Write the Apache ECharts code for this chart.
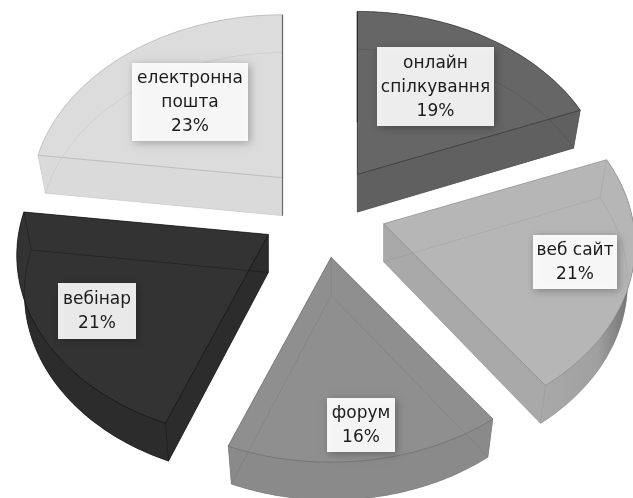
<!DOCTYPE html>
<html><head><meta charset="utf-8">
<style>html,body{margin:0;padding:0;background:#fff}#c{width:633px;height:498px;filter:blur(.55px)}</style>
<script src="https://cdn.jsdelivr.net/npm/echarts@6/dist/echarts.min.js"></script>
</head><body><div id="c"></div>
<script>
const categories = ['онлайн\nспілкування', 'веб сайт', 'форум', 'вебінар', 'електронна\nпошта'];
const shares = [19, 21, 16, 21, 23];

const topColors = ['#666666', '#b6b6b6', '#8f8f8f', '#333333', '#dcdcdc'];
const sideColors = ['#606060', '#a9a9a9', '#8a8a8a', '#2c2c2c', '#dadada'];
const lineColors = ['rgba(40,40,40,.7)', 'rgba(110,110,110,.5)', 'rgba(90,90,90,.55)', 'rgba(15,15,15,.8)', 'rgba(150,150,150,.55)'];
const hiddenColors = ['rgba(60,60,60,.3)', 'rgba(130,130,130,.28)', 'rgba(100,100,100,.3)', 'rgba(10,10,10,.4)', 'rgba(180,180,180,.35)'];
const labelBoxes = [[377, 47, 117, 79], [533, 235, 84, 54], [327, 398, 68, 54], [58, 283, 78, 56], [132, 63, 116, 78]];
const labelFills = ['rgba(255,255,255,.9)', 'rgba(255,255,255,.93)', 'rgba(255,255,255,.93)', 'rgba(255,255,255,.9)', 'rgba(255,255,255,.9)'];

const pie = { cx: 323, cy: 211, a: 250, b: 181.5, k: 0.114, explode: 0.25, depth: 38, lowScale: 0.97 };

function unit(deg, r) {
  const t = deg * Math.PI / 180, X = Math.sin(t) * r, Y = -Math.cos(t) * r, s = 1 - pie.k * Y;
  return [pie.a * X / s, pie.b * Y / s];
}
const total = shares.reduce((p, c) => p + c, 0);

function renderItem(params, api) {
  const i = params.dataIndex;
  const before = shares.slice(0, i).reduce((p, c) => p + c, 0);
  const start = before / total * 360, end = (before + api.value(0)) / total * 360;
  const off = unit((start + end) / 2, pie.explode);
  const apex = [pie.cx + off[0], pie.cy + off[1]];
  const arc = [];
  for (let n = 0; n <= 60; n++) {
    const u = unit(start + (end - start) * n / 60, 1);
    arc.push([apex[0] + u[0], apex[1] + u[1]]);
  }
  const low = p => [apex[0] + (p[0] - apex[0]) * pie.lowScale, p[1] + pie.depth];
  const topPoly = [apex].concat(arc);
  const lowPoly = topPoly.map(low);
  const arcFill = i === 1
    ? new echarts.graphic.LinearGradient(0, 0, 1, 0, [
        { offset: 0, color: '#a9a9a9' }, { offset: 0.6, color: '#a0a0a0' }, { offset: 1, color: '#6a6a6a' }], false)
    : sideColors[i];
  const solid = (pts, fill) => ({ type: 'polygon', shape: { points: pts }, style: { fill: fill || sideColors[i] } });
  const outline = (pts, stroke, w) => ({ type: 'polyline', shape: { points: pts }, style: { fill: 'none', stroke, lineWidth: w } });
  const first = arc[0], last = arc[arc.length - 1];
  const box = labelBoxes[i];
  const children = [
    solid(lowPoly),
    solid(arc.concat(arc.map(low).reverse()), arcFill),
    solid([apex, first, low(first), low(apex)]),
    solid([apex, last, low(last), low(apex)]),
    { type: 'polygon', shape: { points: topPoly }, style: { fill: topColors[i] } },
    outline(lowPoly.concat([lowPoly[0]]), hiddenColors[i], 0.8),
    outline([apex, low(apex)], hiddenColors[i], 0.8),
    outline([first, low(first)], hiddenColors[i], 0.8),
    outline([last, low(last)], hiddenColors[i], 0.8),
    outline(topPoly.concat([apex]), lineColors[i], 0.8)
  ];
  if (end === 360) children.push(outline([last, low(apex)], 'rgba(40,40,40,.6)', 1.2));
  if (start === 0) children.push(outline([first, [apex[0], apex[1] - 52]], 'rgba(30,30,30,.7)', 1.2));
  children.push({
    type: 'rect', shape: { x: box[0], y: box[1], width: box[2], height: box[3] },
    style: { fill: labelFills[i], shadowBlur: 8, shadowOffsetX: 2, shadowOffsetY: 2, shadowColor: 'rgba(0,0,0,.3)' }
  });
  children.push({
    type: 'text', x: box[0] + box[2] / 2, y: box[1] + box[3] / 2 + 1,
    style: {
      text: categories[i] + '\n' + api.value(0) + '%',
      fill: '#1c1c1c', font: '17px "DejaVu Sans"', lineHeight: 24, align: 'center', verticalAlign: 'middle'
    }
  });
  return { type: 'group', children };
}

const chart = echarts.init(document.getElementById('c'), null, { renderer: 'canvas', width: 633, height: 498 });
chart.setOption({
  animation: false,
  backgroundColor: '#fff',
  series: [{
    type: 'custom',
    coordinateSystem: 'none',
    renderItem,
    data: shares.map((v, i) => ({ name: categories[i], value: [v] }))
  }]
});
</script></body></html>
